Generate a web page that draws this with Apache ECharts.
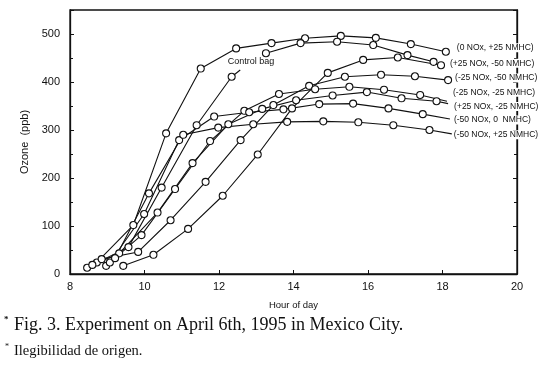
<!DOCTYPE html>
<html>
<head>
<meta charset="utf-8">
<script src="https://cdn.jsdelivr.net/npm/echarts@6/dist/echarts.min.js"></script>
<style>
  html, body { margin: 0; padding: 0; background: #fff; }
  #chart { width: 542px; height: 368px; }
</style>
</head>
<body>
<div id="chart"></div>
<script>
  // series labels (as printed at the right of the plot)
  const seriesNames = ['(0 NOx, +25 NMHC)', '(+25 NOx, -50 NMHC)', '(-25 NOx, -50 NMHC)',
    '(-25 NOx, -25 NMHC)', '(+25 NOx, -25 NMHC)', '(-50 NOx, 0  NMHC)', '(-50 NOx, +25 NMHC)']

  // hour of day / ozone (ppb)
  const hoursA = [8.72, 9.70, 10.58, 11.51, 12.46, 13.41, 14.31, 15.27, 16.21, 17.15, 18.09]
  const ozoneA = [24, 102, 293, 428, 470, 481, 491, 496, 492, 479, 463]
  const hoursB = [9.43, 10.24, 11.17, 12.10, 13.04, 13.96, 14.92, 15.87, 16.80, 17.96]
  const ozoneB = [17, 40, 94, 163, 249, 345, 419, 446, 451, 435]
  const hoursC = [8.85, 9.83, 10.70, 11.64, 12.58, 13.46, 14.42, 15.38, 16.35, 17.26, 18.15]
  const ozoneC = [31, 46, 112, 192, 279, 352, 392, 411, 415, 412, 404]
  const hoursD = [8.97, 9.92, 10.82, 11.76, 12.68, 13.61, 14.58, 15.50, 16.43, 17.40]
  const ozoneD = [17, 81, 177, 277, 340, 375, 385, 390, 384, 373]
  const hoursE = [8.46, 9.32, 10.35, 11.29, 12.25, 13.16, 14.07, 15.05, 15.97, 16.90, 17.84]
  const ozoneE = [13, 43, 128, 231, 312, 344, 362, 372, 379, 366, 360]
  const hoursF = [9.07, 9.99, 10.93, 11.87, 12.81, 13.73, 14.69, 15.60, 16.55, 17.47]
  const ozoneF = [24, 125, 279, 328, 337, 343, 354, 355, 345, 333]
  const hoursG = [9.21, 10.12, 11.04, 11.98, 12.92, 13.83, 14.80, 15.74, 16.68, 17.65]
  const ozoneG = [33, 168, 290, 305, 312, 317, 318, 316, 310, 300]

  // leader line ends (hour, ppb) running to the labels; null = none
  const leaders = [null, null, null, [18.12, 360], [18.15, 355], [18.2, 323], [18.25, 292]]

  // control bag: drawn in two pieces, broken where its label sits
  const hoursCtrlLow = [8.60, 9.57, 10.46, 11.40, 12.34]
  const ozoneCtrlLow = [19, 56, 180, 310, 411]
  const ctrlBreak = [12.57, 425]
  const hoursCtrlHigh = [13.26, 14.19, 15.17, 16.14, 17.06, 17.76]
  const ozoneCtrlHigh = [460, 481, 484, 477, 456, 442]

  const xTicks = [8, 10, 12, 14, 16, 18, 20]
  const yTicks = [0, 100, 200, 300, 400, 500]

  const hours = [hoursA, hoursB, hoursC, hoursD, hoursE, hoursF, hoursG]
  const ozone = [ozoneA, ozoneB, ozoneC, ozoneD, ozoneE, ozoneF, ozoneG]
  // label nudges [dx, dy] in px
  const labelOffset = [[10, -4], [8, -2], [6, -2], [5, -9], [5, 3], [3, 1], [1, 1]]

  const sans = 'Liberation Sans, Arial, sans-serif'
  const serif = 'Liberation Serif, Times New Roman, serif'
  const ink = '#111'

  const chart = echarts.init(document.getElementById('chart'), null, {renderer: 'canvas'})

  let lineStyle = {color: ink, width: 1.1}
  let itemStyle = {color: '#fff', borderColor: ink, borderWidth: 1.1}

  let series = seriesNames.map((name, i) => {
    let data = hours[i].map((h, k) => [h, ozone[i][k]])
    if (leaders[i]) data.push({value: leaders[i], symbol: 'none'})
    return {
      name: name,
      type: 'line',
      data: data,
      symbol: 'circle',
      symbolSize: 7,
      showAllSymbol: true,
      lineStyle: lineStyle,
      itemStyle: itemStyle,
      emphasis: {disabled: true},
      endLabel: {
        show: true,
        formatter: name,
        fontFamily: sans,
        fontSize: 8.5,
        color: ink,
        backgroundColor: '#fff',
        padding: [0, 1],
        distance: 0,
        offset: labelOffset[i]
      },
      z: 3
    }
  })

  let ctrlData = hoursCtrlLow.map((h, k) => [h, ozoneCtrlLow[k]])
  ctrlData.push({
    value: ctrlBreak,
    symbolSize: 1,
    itemStyle: {color: 'rgba(0,0,0,0)', borderWidth: 0},
    label: {show: true, formatter: 'Control bag', position: [-12, -12], fontFamily: sans, fontSize: 9, color: ink}
  })
  ctrlData.push([ctrlBreak[0] + 0.3, '-'])
  hoursCtrlHigh.forEach((h, k) => ctrlData.push([h, ozoneCtrlHigh[k]]))
  series.push({
    name: 'Control bag',
    type: 'line',
    data: ctrlData,
    symbol: 'circle',
    symbolSize: 7,
    showAllSymbol: true,
    connectNulls: false,
    lineStyle: lineStyle,
    itemStyle: itemStyle,
    emphasis: {disabled: true},
    z: 3
  })

  let option = {
    animation: false,
    backgroundColor: '#fff',
    grid: {left: 70, right: 25, top: 10, bottom: 94, show: true, borderColor: ink, borderWidth: 1.3},
    xAxis: {
      type: 'value', min: xTicks[0], max: xTicks[xTicks.length - 1], interval: 2,
      name: 'Hour of day', nameLocation: 'middle', nameGap: 26,
      nameTextStyle: {fontFamily: sans, fontSize: 9.5, color: ink},
      axisLine: {lineStyle: {color: ink, width: 1.3}},
      axisTick: {inside: true, length: 4, lineStyle: {color: ink}},
      axisLabel: {fontFamily: sans, fontSize: 11, color: ink, margin: 7},
      splitLine: {show: false}
    },
    yAxis: [{
      type: 'value', min: yTicks[0], max: 550, interval: 100,
      name: 'Ozone  (ppb)', nameLocation: 'middle', nameGap: 28, nameRotate: 90,
      nameTextStyle: {fontFamily: sans, fontSize: 11, color: ink},
      axisLine: {show: true, lineStyle: {color: ink, width: 1.3}},
      axisTick: {inside: true, length: 4, lineStyle: {color: ink}},
      minorTick: {show: true, splitNumber: 2, length: 3, lineStyle: {color: ink}},
      axisLabel: {
        fontFamily: sans, fontSize: 11, color: ink, margin: 10, showMaxLabel: false,
        formatter: v => (yTicks.indexOf(v) >= 0 ? String(v) : '')
      },
      splitLine: {show: false}
    }, {
      type: 'value', min: yTicks[0], max: 550, interval: 100, position: 'right',
      axisLine: {show: true, lineStyle: {color: ink, width: 1.3}},
      axisTick: {inside: true, length: 4, lineStyle: {color: ink}},
      minorTick: {show: true, splitNumber: 2, length: 3, lineStyle: {color: ink}},
      axisLabel: {show: false},
      splitLine: {show: false}
    }],
    series: series,
    graphic: [
      {type: 'text', left: 4, top: 315, style: {text: '*', font: 'bold 9px ' + serif, fill: ink}},
      {type: 'text', left: 14, top: 316, style: {text: 'Fig. 3. Experiment on April 6th, 1995 in Mexico City.', font: '18px ' + serif, fill: ink}},
      {type: 'text', left: 5, top: 343, style: {text: '*', font: '8px ' + serif, fill: ink}},
      {type: 'text', left: 14, top: 344, style: {text: 'Ilegibilidad de origen.', font: '14.5px ' + serif, fill: ink}}
    ]
  }

  chart.setOption(option)
</script>
</body>
</html>
